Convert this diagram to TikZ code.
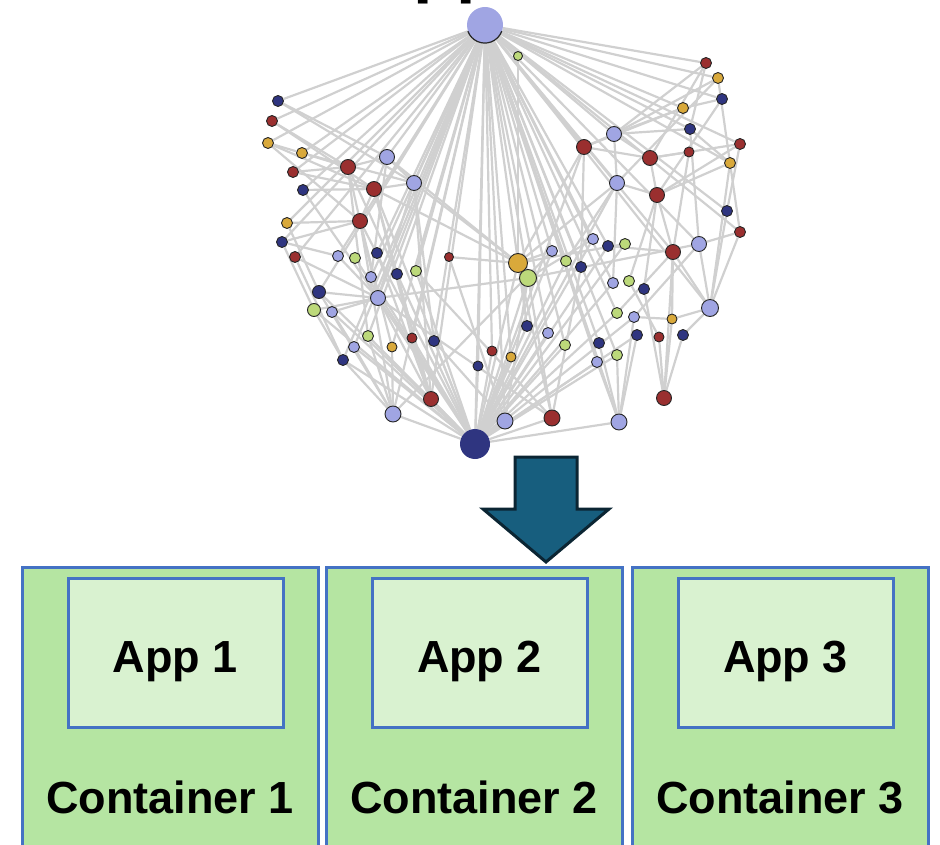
\documentclass[tikz,border=0pt]{standalone}
\usepackage{fontspec}
\setmainfont{Liberation Sans}
\usetikzlibrary{backgrounds}

\definecolor{lav}{HTML}{A0A5E3}
\definecolor{nav}{HTML}{2F3580}
\definecolor{red}{HTML}{9A2F2F}
\definecolor{gld}{HTML}{D9A93B}
\definecolor{grn}{HTML}{BCD97A}
\definecolor{edgegray}{HTML}{D0D0D0}
\definecolor{boxblue}{HTML}{4472C4}
\definecolor{outerfill}{HTML}{B5E5A2}
\definecolor{innerfill}{HTML}{D9F2D0}
\definecolor{arrowfill}{HTML}{175E7E}
\definecolor{arrowline}{HTML}{0B2533}

\tikzset{
  dot/.style={circle, inner sep=0pt, draw=black!85, line width=0.9pt},
  hub/.style={circle, inner sep=0pt},
  edge/.style={draw=edgegray, line width=2.2pt},
  container/.style={draw=boxblue, fill=outerfill, line width=3pt},
  appbox/.style={draw=boxblue, fill=innerfill, line width=3pt},
  bigtext/.style={font=\bfseries\fontsize{45}{54}\selectfont, inner sep=0pt, anchor=base},
}

\begin{document}
\begin{tikzpicture}[x=1pt, y=-1pt]
\useasboundingbox (0,0) rectangle (940,845);
\clip (0,0) rectangle (940,845);

% heading of the network, running off the top edge
\node[font=\bfseries\fontsize{70}{80}\selectfont, inner sep=0pt, anchor=base west] (title) at (363,-10) {Application};

% hubs
\node[hub, fill=lav, minimum size=36pt] (T) at (485,25) {};
\draw[black!85, line width=1.2pt] (T.200) arc[start angle=200, end angle=340, radius=18pt];
\node[hub, fill=nav, minimum size=30pt] (B) at (475,444) {};

% network nodes: name / x / y / colour / diameter
\foreach \n/\x/\y/\c/\d in {
  a1/518/56/grn/9, a2/706/63/red/11, a3/718/78/gld/11, a4/722/99/nav/11,
  a5/683/108/gld/11, a6/690/129/nav/11, a7/614/134/lav/15, a8/584/147/red/15,
  a9/650/158/red/15, a10/689/152/red/10, a11/740/144/red/11, a12/730/163/gld/11,
  a13/617/183/lav/15, a14/657/195/red/15, a15/727/211/nav/11, a16/740/232/red/11,
  b1/278/101/nav/11, b2/272/121/red/11, b3/268/143/gld/11, b4/302/153/gld/11,
  b5/387/157/lav/15, b6/293/172/red/11, b7/348/167/red/15, b8/303/190/nav/11,
  b9/374/189/red/15, b10/414/183/lav/15, b11/287/223/gld/11, b12/360/221/red/15,
  c1/282/242/nav/11, c2/295/257/red/11, c3/338/256/lav/11, c4/355/258/grn/11,
  c5/377/253/nav/11, c6/371/277/lav/11, c7/397/274/nav/11, c8/416/271/grn/11,
  c9/449/257/red/9, c10/518/263/gld/19, c11/528/278/grn/17, c12/552/251/lav/11,
  c13/566/261/grn/11, c14/581/267/nav/11, c15/593/239/lav/11, c16/608/246/nav/11,
  c17/625/244/grn/11, c18/673/252/red/15, c19/699/244/lav/15, c20/319/292/nav/13,
  c21/378/298/lav/15, c22/314/310/grn/13, c23/332/312/lav/11, c24/613/283/lav/11,
  c25/629/281/grn/11, c26/644/289/nav/11, c27/710/308/lav/17, c28/617/313/grn/11,
  c29/634/317/lav/11, c30/672/319/gld/10,
  d1/527/326/nav/11, d2/548/333/lav/11, d3/368/336/grn/11, d4/354/347/lav/11,
  d5/392/347/gld/10, d6/412/338/red/10, d7/434/341/nav/11, d8/565/345/grn/11,
  d9/599/343/nav/11, d10/637/335/nav/11, d11/659/337/red/10, d12/683/335/nav/11,
  d13/343/360/nav/11, d14/492/351/red/10, d15/511/357/gld/10, d16/478/366/nav/10,
  d17/617/355/grn/11, d18/597/362/lav/11, d19/431/399/red/15, d20/664/398/red/15,
  d21/393/414/lav/16, d22/505/421/lav/16, d23/552/418/red/16, d24/619/422/lav/16}
  {\node[dot, fill=\c, minimum size=\d pt] (\n) at (\x,\y) {};}

\begin{scope}[on background layer]
  % spokes of the upper hub
  \foreach \m in {a1,a2,a3,a4,a5,a6,a7,a8,a11,a12,a13,a15,a16,
                  b1,b2,b3,b4,b5,b6,b8,b10,b11,c1,c2,c3,c5,c6,c7,c8,c20,c21,
                  c12,c13,c14,c15,c16,c18,c19,c24,c27,c28,
                  d1,d2,d3,d4,d5,d6,d7,d8,d9,d13,d14,d15,d16,d17,d18,d19,d21,d22,d23,d24,B}
    {\draw[edge] (T) -- (\m);}
  % spokes of the lower hub
  \foreach \m in {d21,d19,d13,c20,c22,c23,d3,d4,c21,b7,b9,b12,c4,c6,c8,
                  d6,d7,d14,d15,d16,d22,d23,d24,c10,c11,d1,d2,d8,c12,c13,
                  c24,c28,c29,d10,d17,d18,c15,c16,c17,a8,a13}
    {\draw[edge] (B) -- (\m);}
  % remaining links
  \foreach \p/\q in {
    a1/c10, a7/a8, a7/a13, a7/a5, a7/a2, a7/a3, a7/a6, a7/a9, a8/a9, a9/a10,
    a9/a11, a9/a14, a13/a14, a14/a12, a14/c18, a14/a11, a12/a16, a16/c27,
    a15/c27, c27/c18, c27/c19, c27/d12, c27/c30, c19/a16, c18/c30, c18/d20,
    c30/d20, d12/d20, d11/d20, d10/d24, d17/d24, d9/d24, d18/d24, c29/d24,
    c30/c29, a4/a5, a3/a12, a2/a6, a6/c19, a5/a8, a8/c10, c10/c12, c10/a13,
    c10/b5, c10/b10, c10/b9, c11/c21, c11/c15, c11/c19, c10/c17, a8/c14,
    a13/c13, a13/c24, a14/c25, a14/c26, c18/c28, c18/c16, c19/c29, a12/c27,
    a11/a15, a4/a14, a2/a9, a3/a13, a6/a12, a10/c18, c26/d20, c25/d11,
    b1/b5, b2/b7, b3/b4, b3/b9, b4/b7, b4/b10, b6/b9, b6/b7, b8/b9, b5/b7,
    b5/b9, b5/b10, b7/b12, b9/b10, b9/b12, b11/b12, b11/c20, b12/c21, c1/c3,
    c2/c21, c1/b12, c20/c21, c22/c21, c23/c21, c20/d21, c22/d13, c23/d4,
    d13/d21, d4/d21, d3/d21, d5/d21, d21/b12, d19/c21, d19/b9, d19/c7,
    d6/d19, b1/b10, b2/b9, b3/b12, b8/c21, b10/c21, b10/d19, b7/d3, b12/d5,
    b5/c6, c3/c21, c5/d19, c9/d22, c9/c10, c11/d22, c10/d23, c14/d23,
    c12/d21, b10/d7, b9/d6, c2/d13, c1/c22, c21/d23, d7/d22, c8/d23}
    {\draw[edge] (\p) -- (\q);}
\end{scope}

% arrow from the network down to the containers
\draw[fill=arrowfill, draw=arrowline, line width=3pt, line join=miter]
  (515,457) -- (577,457) -- (577,509) -- (609,509) -- (546,562)
  -- (483,509) -- (515,509) -- cycle;

% containers, each holding one application
\foreach \i/\xl/\xr in {1/22/318, 2/326/622, 3/632/928} {
  \draw[container] (\xl,567) rectangle (\xr,870);
  \draw[appbox] (\xl+46,578) rectangle (\xr-35,727);
  \node[bigtext] (app\i) at ({(\xl+46+\xr-35)/2},672) {App \i};
  \node[bigtext] (cont\i) at ({(\xl+\xr)/2},813) {Container \i};
}
\end{tikzpicture}
\end{document}
